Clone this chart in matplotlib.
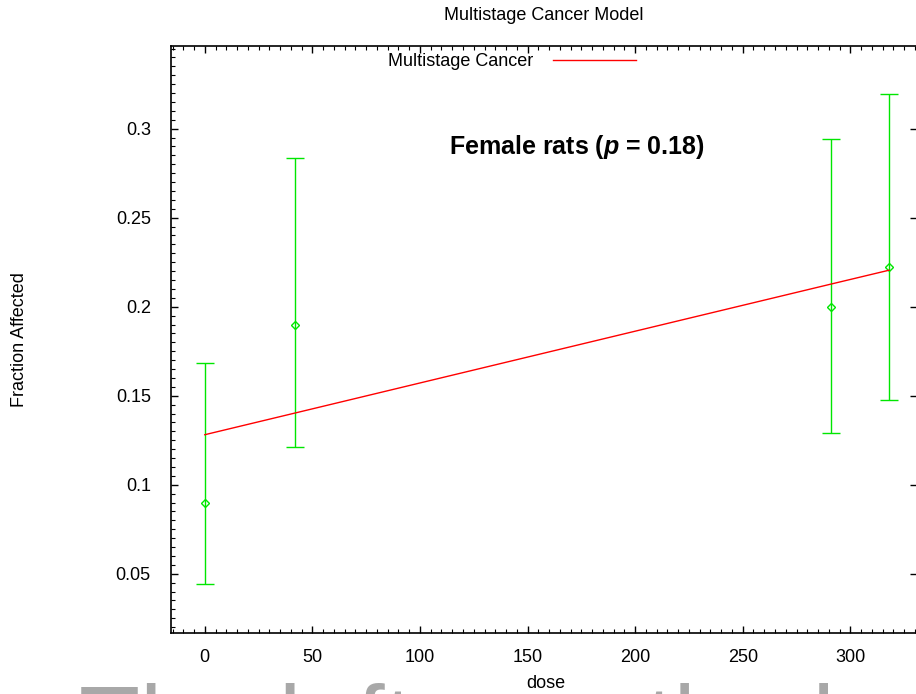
import numpy as np
import matplotlib
matplotlib.use("Agg")
import matplotlib.pyplot as plt
from matplotlib.ticker import MultipleLocator

plt.rcParams['font.family'] = ['Liberation Sans', 'DejaVu Sans']
plt.rcParams['mathtext.fontset'] = 'custom'
plt.rcParams['mathtext.rm'] = 'Liberation Sans'
plt.rcParams['mathtext.it'] = 'Liberation Sans:italic'
plt.rcParams['mathtext.bf'] = 'Liberation Sans:bold'
plt.rcParams['mathtext.bfit'] = 'Liberation Sans:italic:bold'

# observed data
dose = [0, 42, 291, 318]
frac = [0.09, 0.19, 0.20, 0.2222]
lower = [0.0445, 0.1212, 0.1292, 0.1476]
upper = [0.1683, 0.2836, 0.2944, 0.3195]

# fitted multistage curve
fit_dose = [0, 42, 291, 318]
fit_frac = [0.1281, 0.1403, 0.2127, 0.2205]

green = '#00e600'
fs = 13

fig = plt.figure(figsize=(9.16, 6.94), dpi=100)
ax = fig.add_axes([171/916, 1 - 632.7/694, 746/916, (632.7 - 45.7)/694])

yerr = [np.array(frac) - np.array(lower), np.array(upper) - np.array(frac)]
ax.errorbar(dose, frac, yerr=yerr, fmt='D', color=green, mfc='none', mec=green,
            ms=3.8, mew=1.0, elinewidth=1.0, capsize=6.5, capthick=1.0, zorder=3)
ax.plot(fit_dose, fit_frac, color='red', lw=1.0, label='Multistage Cancer', zorder=4)

ax.set_xlim(-15.7, 331)
ax.set_ylim(0.0169, 0.3466)

ax.xaxis.set_minor_locator(MultipleLocator(5))
ax.yaxis.set_minor_locator(MultipleLocator(0.005))
ax.set_xticks(np.arange(0, 301, 50))
ax.set_yticks([0.05, 0.1, 0.15, 0.2, 0.25, 0.3])
ax.set_yticklabels(['0.05', '0.1', '0.15', '0.2', '0.25', '0.3'])

ax.tick_params(which='both', direction='in', top=True, right=True, labelsize=fs)
ax.tick_params(which='major', length=5, width=1.0)
ax.tick_params(which='minor', length=2.7, width=0.8)
ax.tick_params(axis='x', which='major', pad=12)
ax.tick_params(axis='y', which='major', pad=14.5)
ax.tick_params(axis='y', which='minor', right=False)
for s in ax.spines.values():
    s.set_linewidth(1.2)

fig.text(544/916, 1 - 15/694, 'Multistage Cancer Model', ha='center', va='center', fontsize=fs)
fig.text(546/916, 1 - 683/694, 'dose', ha='center', va='center', fontsize=fs)
fig.text(20/916, 1 - 340/694, 'Fraction Affected', ha='center', va='center',
         rotation=90, fontsize=fs)
ax.text(173, 0.2897, 'Female rats ($\\boldsymbol{p}$ = 0.18)', ha='center', va='center',
        fontsize=18, fontweight='bold')

ax.legend(loc='center', bbox_to_anchor=(512/916, 1 - 62/694), bbox_transform=fig.transFigure,
          frameon=False, markerfirst=False, handlelength=4.6, handletextpad=1.1,
          fontsize=fs)

# cut-off caption below the chart
fig.text(79/916, 1 - 756/694, 'The left was the best', ha='left', va='baseline',
         fontsize=72, color='#a8a8a8')

fig.savefig('out.png', dpi=100)
